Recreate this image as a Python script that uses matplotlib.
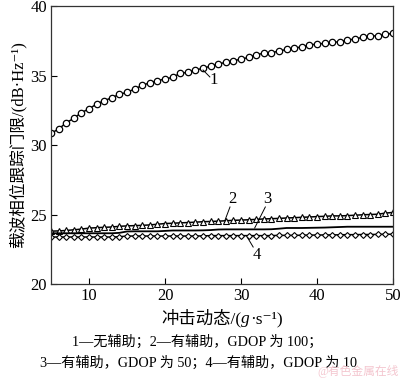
import matplotlib.pyplot as plt
from matplotlib.offsetbox import TextArea, HPacker, AnnotationBbox

plt.rcParams['font.family'] = ['Liberation Serif', 'Noto Sans CJK SC', 'DejaVu Sans']

x = list(range(5, 51))

# 1 - no aiding
unaided = [30.84, 31.15, 31.6, 31.92, 32.33, 32.6, 32.95, 33.19, 33.4, 33.65,
           33.79, 34.03, 34.29, 34.48, 34.63, 34.75, 34.87, 35.16, 35.23, 35.4,
           35.52, 35.68, 35.83, 35.95, 36.07, 36.17, 36.31, 36.5, 36.6, 36.64,
           36.76, 36.88, 36.96, 37.07, 37.19, 37.27, 37.31, 37.39, 37.43, 37.55,
           37.63, 37.75, 37.84, 37.86, 37.96, 38.04]
# 2 - aided, GDOP 100
gdop100 = [23.8, 23.82, 23.85, 23.9, 23.95, 24.02, 24.05, 24.08, 24.1, 24.15,
           24.18, 24.2, 24.22, 24.25, 24.3, 24.35, 24.37, 24.4, 24.42, 24.45,
           24.48, 24.5, 24.52, 24.55, 24.58, 24.6, 24.62, 24.65, 24.68, 24.7,
           24.72, 24.75, 24.77, 24.8, 24.82, 24.85, 24.87, 24.9, 24.9, 24.92,
           24.95, 24.98, 25.0, 25.02, 25.1, 25.15]
# 3 - aided, GDOP 50
gdop50 = [23.65, 23.65, 23.65, 23.65, 23.65, 23.65, 23.65, 23.65, 23.65, 23.68,
          23.78, 23.79, 23.79, 23.79, 23.79, 23.82, 23.85, 23.85, 23.85, 23.85,
          23.86, 23.88, 23.92, 23.93, 23.93, 23.93, 23.93, 23.93, 23.93, 23.94,
          23.98, 24.03, 24.03, 24.03, 24.04, 24.05, 24.06, 24.08, 24.1, 24.12,
          24.12, 24.12, 24.12, 24.12, 24.12, 24.12]
# 4 - aided, GDOP 10
gdop10 = [23.38, 23.38, 23.38, 23.38, 23.38, 23.38, 23.38, 23.38, 23.38, 23.4,
          23.45, 23.45, 23.45, 23.45, 23.45, 23.45, 23.45, 23.45, 23.45, 23.45,
          23.46, 23.48, 23.48, 23.48, 23.48, 23.48, 23.48, 23.48, 23.48, 23.48,
          23.5, 23.5, 23.5, 23.51, 23.52, 23.52, 23.53, 23.53, 23.54, 23.55,
          23.55, 23.56, 23.56, 23.57, 23.58, 23.58]

fig = plt.figure(figsize=(4.0, 3.79), dpi=100)
ax = fig.add_axes([0.1275, 0.2507, 0.855, 0.7333])

ax.plot(x, unaided, color='black', lw=1.1, marker='o', ms=4.6, mfc='white', mec='black', mew=0.9)
ax.plot(x, gdop100, color='black', lw=1.1, marker='^', ms=4.4, mfc='white', mec='black', mew=0.8)
ax.plot(x, gdop50, color='black', lw=1.3)
ax.plot(x, gdop10, color='black', lw=1.1, marker='D', ms=3.0, mfc='white', mec='black', mew=0.8)

ax.set_xlim(5, 50)
ax.set_ylim(20, 40)
ax.set_xticks([10, 20, 30, 40, 50])
ax.set_yticks([20, 25, 30, 35, 40])
ax.tick_params(direction='in', length=4, width=0.8, labelsize=12, pad=3)
for s in ax.spines.values():
    s.set_linewidth(0.9)
    s.set_color('#333333')

# curve labels with leader lines
ax.plot([25.0, 25.9], [35.4, 34.9], color='black', lw=0.7)
ax.text(26.4, 34.68, '1', fontsize=12, ha='center', va='center')
ax.plot([28.55, 27.9], [25.54, 24.6], color='black', lw=0.7)
ax.text(28.8, 26.1, '2', fontsize=12, ha='center', va='center')
ax.plot([33.2, 31.8], [25.54, 24.03], color='black', lw=0.7)
ax.text(33.4, 26.1, '3', fontsize=12, ha='center', va='center')
ax.plot([31.6, 30.9], [22.66, 23.3], color='black', lw=0.7)
ax.text(32.1, 22.1, '4', fontsize=12, ha='center', va='center')

ax.set_ylabel('载波相位跟踪门限/(dB·Hz⁻¹)', fontsize=12, labelpad=3)

# x label with italic g
xl_parts = [TextArea('冲击动态/(', textprops=dict(fontsize=12.5, fontweight='medium')),
            TextArea('g', textprops=dict(fontsize=12.5, style='italic')),
            TextArea('·s⁻¹)', textprops=dict(fontsize=12.5))]
xl_box = HPacker(children=xl_parts, align='baseline', pad=0, sep=0)
fig.add_artist(AnnotationBbox(xl_box, (0.555, 0.161), xycoords='figure fraction',
                              frameon=False, box_alignment=(0.5, 0.5), pad=0))

fig.text(0.494, 0.098, '1—无辅助；2—有辅助，GDOP 为 100；', fontsize=10.2, ha='center', va='center')
fig.text(0.497, 0.042, '3—有辅助，GDOP 为 50；4—有辅助，GDOP 为 10', fontsize=10.2, ha='center', va='center')
fig.text(0.998, 0.002, '@有色金属在线', fontsize=8.5, color='#f4c6cf', ha='right', va='bottom')

fig.savefig('out.png', dpi=100)
